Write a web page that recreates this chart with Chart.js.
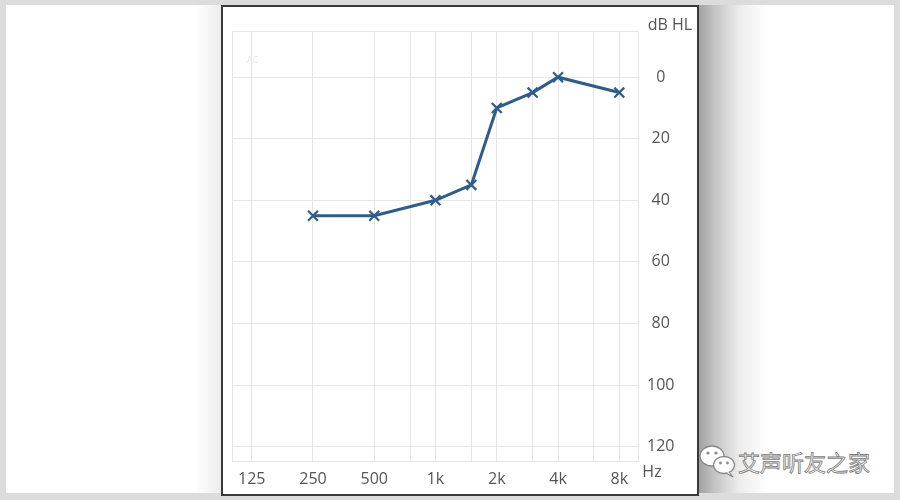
<!DOCTYPE html>
<html>
<head>
<meta charset="utf-8">
<script src="https://cdn.jsdelivr.net/npm/chart.js@4"></script>
<style>
  html,body{margin:0;padding:0;}
  body{width:900px;height:500px;background:#dcdcdc;position:relative;overflow:hidden;font-family:"Open Sans",sans-serif;}
  #inner{position:absolute;left:6px;top:5px;width:888px;height:488px;background:#fff;}
  #lshadow{position:absolute;left:196px;top:5px;width:25px;height:488px;background:linear-gradient(to right,#fff,#ececec);}
  #rshadow{position:absolute;left:697px;top:5px;width:70px;height:488px;background:linear-gradient(to right,#9c9c9c,#c4c4c4 25%,#ececec 60%,#fff);}
  #frame{position:absolute;left:221px;top:5px;width:474px;height:487px;border:2px solid #3a3a3a;background:#fff;}
  #c{position:absolute;left:0;top:0;}
  #wm{position:absolute;left:738px;top:445px;font-family:"Noto Sans CJK SC",sans-serif;font-size:22px;color:#fff;-webkit-text-stroke:0.8px #7a7a7a;}
  #icon{position:absolute;left:698px;top:443px;}
</style>
</head>
<body>
<div id="inner"></div>
<div id="lshadow"></div>
<div id="rshadow"></div>
<div id="frame"></div>
<svg id="icon" width="40" height="36" viewBox="0 0 40 36">
  <ellipse cx="14" cy="13" rx="12" ry="10" fill="#fff" stroke="#888" stroke-width="1.3"/>
  <circle cx="10" cy="10" r="1.6" fill="#888"/><circle cx="18" cy="10" r="1.6" fill="#888"/>
  <ellipse cx="26" cy="22" rx="10.5" ry="8.5" fill="#fff" stroke="#888" stroke-width="1.3"/>
  <path d="M31 29 L35 34 L28 30" fill="#fff" stroke="#888" stroke-width="1.2"/>
  <circle cx="22.5" cy="20" r="1.4" fill="#888"/><circle cx="29.5" cy="20" r="1.4" fill="#888"/>
</svg>
<div id="wm">艾声听友之家</div>
<canvas id="c" width="900" height="500"></canvas>
<script>
// ---- data ----
const frequencies = [250, 500, 1000, 1500, 2000, 3000, 4000, 8000];
const thresholds  = [45, 45, 40, 35, 10, 5, 0, 5];
const xTickValues = [125, 250, 500, 750, 1000, 1500, 2000, 3000, 4000, 6000, 8000];
const xTickLabels = ['125', '250', '500', '', '1k', '', '2k', '', '4k', '', '8k'];
const yTickValues = [0, 20, 40, 60, 80, 100, 120];
const xUnit = 'Hz';
const yUnit = 'dB HL';
const curveLabel = 'AC';

const textColor = '#555';
const gridColor = '#e6e6e6';
const lineColor = '#2f5d89';

const decor = {
  id: 'decor',
  beforeDatasetsDraw(chart) {
    const {ctx, chartArea: a} = chart;
    ctx.save();
    ctx.strokeStyle = gridColor;
    ctx.lineWidth = 1;
    ctx.strokeRect(a.left + 0.5, a.top + 0.5, a.right - a.left - 1, a.bottom - a.top - 1);
    ctx.fillStyle = '#e6e6e6';
    ctx.font = '9px "Open Sans"';
    ctx.textAlign = 'left';
    ctx.textBaseline = 'middle';
    ctx.fillText(curveLabel, a.left + 15, a.top + 29);
    ctx.restore();
  },
  afterDraw(chart) {
    const {ctx} = chart;
    ctx.save();
    ctx.fillStyle = textColor;
    ctx.font = '16px "Open Sans"';
    ctx.textBaseline = 'middle';
    ctx.textAlign = 'center';
    ctx.fillText(yUnit, 670, 25);
    ctx.fillText(xUnit, 652, chart.scales.x.bottom - 20);
    ctx.restore();
  }
};

new Chart(document.getElementById('c'), {
  type: 'line',
  data: {
    datasets: [{
      label: curveLabel,
      data: frequencies.map((f, i) => ({x: f, y: thresholds[i]})),
      borderColor: lineColor,
      borderWidth: 3,
      pointStyle: 'crossRot',
      pointRadius: 7,
      pointBorderWidth: 2.2,
      pointBorderColor: lineColor,
      pointBackgroundColor: lineColor,
      tension: 0,
      fill: false
    }]
  },
  options: {
    responsive: false,
    animation: false,
    layout: {padding: {left: 232, top: 31, right: 221, bottom: 8}},
    plugins: {legend: {display: false}, tooltip: {enabled: false}},
    scales: {
      x: {
        type: 'logarithmic',
        min: 100, max: 10000,
        afterBuildTicks(s) { s.ticks = xTickValues.map(v => ({value: v})); },
        afterFit(s) { s.height = 30; },
        grid: {color: gridColor, drawTicks: false, lineWidth: 1},
        border: {display: false},
        ticks: {
          autoSkip: false, maxRotation: 0, padding: 8,
          color: textColor, font: {family: 'Open Sans', size: 16},
          callback(v) { const i = xTickValues.indexOf(v); return i >= 0 ? xTickLabels[i] : ''; }
        }
      },
      y: {
        type: 'linear',
        position: 'right',
        reverse: true,
        min: -15, max: 125,
        afterBuildTicks(s) { s.ticks = yTickValues.map(v => ({value: v})); },
        afterFit(s) { s.width = 40; },
        grid: {color: gridColor, drawTicks: false, lineWidth: 1},
        border: {display: false},
        ticks: {
          padding: 8, crossAlign: 'center',
          color: textColor, font: {family: 'Open Sans', size: 16}
        }
      }
    }
  },
  plugins: [decor]
});
</script>
</body>
</html>
